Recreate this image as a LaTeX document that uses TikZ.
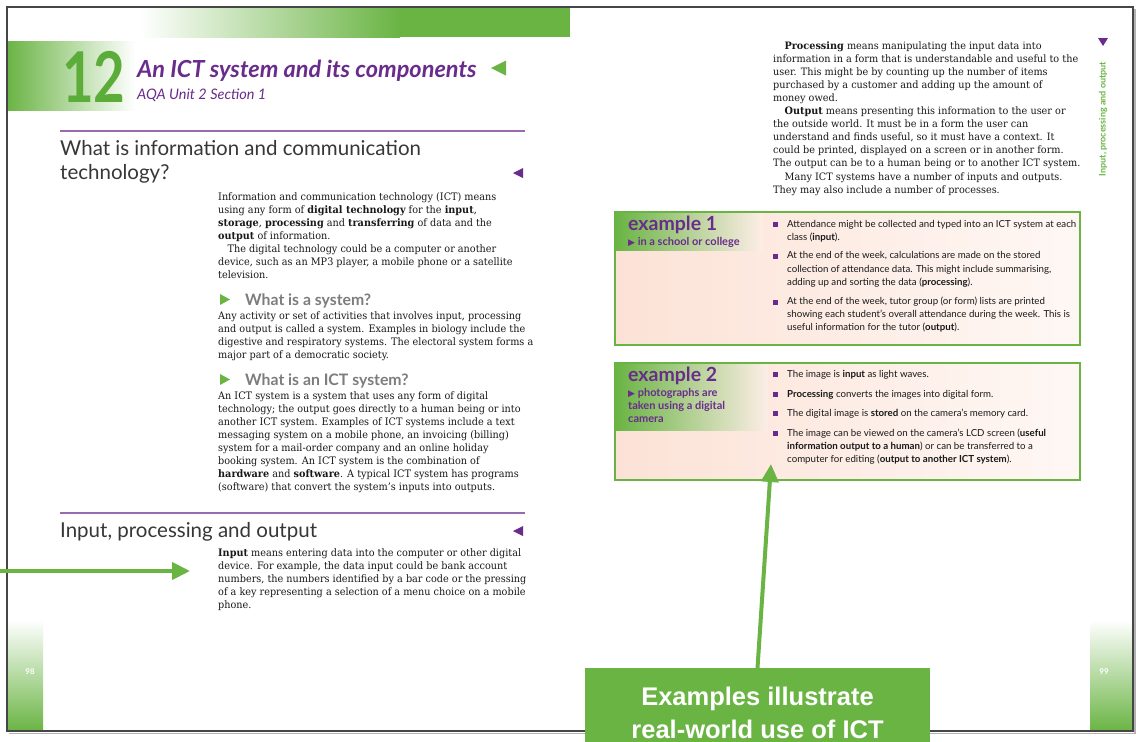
\documentclass[tikz,border=0pt]{standalone}
\usepackage{fontspec}
\setmainfont{DejaVu Serif}
\newfontfamily\gill{Lato}
\newfontfamily\callf{Liberation Sans}
\newfontfamily\djs{DejaVu Sans}
\usetikzlibrary{arrows.meta}
\definecolor{gg}{RGB}{106,180,68}
\definecolor{gnum}{RGB}{92,172,58}
\definecolor{pur}{RGB}{106,44,140}
\definecolor{hdc}{RGB}{55,55,55}
\definecolor{bodyc}{RGB}{25,25,25}
\definecolor{subg}{RGB}{125,125,125}
\definecolor{pinkc}{RGB}{252,226,214}
\definecolor{framec}{RGB}{70,70,70}
\newcommand\plines[1]{\vtop{\halign{##\hfil\cr#1\crcr}}}
\tikzset{
  body/.style={anchor=base west, inner sep=0pt, text=bodyc, xscale=0.94, font=\fontsize{10.3}{13.1}\selectfont},
  bodyr/.style={anchor=base west, inner sep=0pt, text=bodyc, xscale=0.95, font=\fontsize{10.2}{13.1}\selectfont},
  mainhead/.style={anchor=base west, inner sep=0pt, text=hdc, font=\gill\fontsize{20.5}{24}\selectfont},
  subhead/.style={anchor=base west, inner sep=0pt, text=subg, font=\gill\bfseries\fontsize{15.8}{18}\selectfont},
  exhead/.style={anchor=base west, inner sep=0pt, text=pur, font=\gill\bfseries\fontsize{19.5}{20}\selectfont},
  exsub/.style={anchor=base west, inner sep=0pt, text=pur, font=\gill\bfseries\fontsize{11}{13}\selectfont},
  bul/.style={anchor=base west, inner sep=0pt, text=bodyc, font=\gill\fontsize{9.7}{13.3}\selectfont},
  sq/.style={fill=pur, minimum size=5pt, inner sep=0pt},
  bigarrow/.style={draw=gg, line width=4pt, -{Triangle[length=18pt,width=17pt]}},
  exbox/.style={draw=gg, line width=2pt},
  pagenum/.style={text=white, font=\gill\bfseries\fontsize{8}{9}\selectfont, inner sep=0pt}
}
\begin{document}
\begin{tikzpicture}[x=1pt,y=-1pt]
\useasboundingbox (0,0) rectangle (1136,742);
\fill[white] (0,0) rectangle (1136,742);
% page frame and shadow
\draw[black!30, line width=1.5pt] (9,733.5) -- (1135,733.5) -- (1135,9);
% top band and left block
\shade[left color=white, right color=gg] (140,7) rectangle (400,37);
\fill[gg] (399,7) rectangle (570,37);
\shade[left color=gg, right color=white] (7,41) rectangle (135,110);
% page number bars
\shade[top color=white, bottom color=gg] (7,620) rectangle (43,731);
\shade[top color=white, bottom color=gg] (1090,620) rectangle (1133,731);
\node[pagenum] (pn98) at (30,672) {98};
\node[pagenum] (pn99) at (1104,672) {99};
\draw[framec, line width=1.2pt] (7,7) rectangle (1133,731);

% chapter title
\node[anchor=base west, inner sep=0pt, text=gnum, xscale=0.78, font=\gill\bfseries\fontsize{70}{70}\selectfont] (num) at (62,102) {12};
\node[anchor=base west, inner sep=0pt, text=pur, font=\gill\bfseries\itshape\fontsize{23.5}{26}\selectfont] (title) at (137,77) {An ICT system and its components};
\node[anchor=base west, inner sep=0pt, text=pur, font=\gill\itshape\fontsize{14.5}{16}\selectfont] (subtitle) at (137,99) {AQA Unit 2 Section 1};
\fill[gg] (491,68) -- (506,60.5) -- (506,75.5) -- cycle;

% section 1
\draw[pur!70, line width=1.2pt] (60,131) -- (525,131);
\node[mainhead] (h1) at (60,155) {\plines{What is information and communication\cr technology?}};
\fill[pur] (513,173) -- (523,168) -- (523,178) -- cycle;
\node[body] (p1) at (218,200) {\plines{%
Information and communication technology (ICT) means\cr
using any form of {\bfseries digital technology} for the {\bfseries input},\cr
{\bfseries storage}, {\bfseries processing} and {\bfseries transferring} of data and the\cr
{\bfseries output} of information.\cr
\hskip10pt The digital technology could be a computer or another\cr
device, such as an MP3 player, a mobile phone or a satellite\cr
television.}};

\fill[gg] (220,294) -- (230,299.5) -- (220,305) -- cycle;
\node[subhead] (s1) at (245,305) {What is a system?};
\node[body] (p2) at (218,319) {\plines{%
Any activity or set of activities that involves input, processing\cr
and output is called a system. Examples in biology include the\cr
digestive and respiratory systems. The electoral system forms a\cr
major part of a democratic society.}};

\fill[gg] (220,374) -- (230,379.5) -- (220,385) -- cycle;
\node[subhead] (s2) at (245,385) {What is an ICT system?};
\node[body] (p3) at (218,399) {\plines{%
An ICT system is a system that uses any form of digital\cr
technology; the output goes directly to a human being or into\cr
another ICT system. Examples of ICT systems include a text\cr
messaging system on a mobile phone, an invoicing (billing)\cr
system for a mail-order company and an online holiday\cr
booking system. An ICT system is the combination of\cr
{\bfseries hardware} and {\bfseries software}. A typical ICT system has programs\cr
(software) that convert the system’s inputs into outputs.}};

% section 2
\draw[pur!70, line width=1.2pt] (60,513) -- (525,513);
\node[mainhead] (h2) at (60,537) {Input, processing and output};
\fill[pur] (513,531) -- (523,526) -- (523,536) -- cycle;
\node[body] (p4) at (218,556) {\plines{%
{\bfseries Input} means entering data into the computer or other digital\cr
device. For example, the data input could be bank account\cr
numbers, the numbers identified by a bar code or the pressing\cr
of a key representing a selection of a menu choice on a mobile\cr
phone.}};

% right page text
\node[bodyr] (p5) at (773,49) {\plines{%
\hskip12pt{\bfseries Processing} means manipulating the input data into\cr
information in a form that is understandable and useful to the\cr
user. This might be by counting up the number of items\cr
purchased by a customer and adding up the amount of\cr
money owed.\cr
\hskip12pt{\bfseries Output} means presenting this information to the user or\cr
the outside world. It must be in a form the user can\cr
understand and finds useful, so it must have a context. It\cr
could be printed, displayed on a screen or in another form.\cr
The output can be to a human being or to another ICT system.\cr
\hskip12pt Many ICT systems have a number of inputs and outputs.\cr
They may also include a number of processes.}};
\fill[pur] (1098,38) -- (1108,38) -- (1103,46) -- cycle;
\node[rotate=90, inner sep=0pt, text=gg, font=\gill\bfseries\fontsize{9}{10}\selectfont] (side) at (1103,119) {Input, processing and output};

% example 1
\path[left color=pinkc, right color=pinkc!25] (615,212) rectangle (1080,345);
\shade[left color=gg, right color=pinkc!60] (616,213) rectangle (762,250);
\draw[exbox] (615,212) rectangle (1080,345);
\node[exhead] (e1h) at (628,230) {example 1};
\node[exsub] (e1s) at (628,245) {{\djs\fontsize{9}{9}\selectfont ▶} in a school or college};
\node[sq] (q11) at (775.5,224) {};
\node[sq] (q12) at (775.5,256) {};
\node[sq] (q13) at (775.5,302) {};
\node[bul] (b11) at (787,227.3) {\plines{Attendance might be collected and typed into an ICT system at each\cr class ({\bfseries input}).}};
\node[bul] (b12) at (787,258.8) {\plines{At the end of the week, calculations are made on the stored\cr collection of attendance data. This might include summarising,\cr adding up and sorting the data ({\bfseries processing}).}};
\node[bul] (b13) at (787,304.3) {\plines{At the end of the week, tutor group (or form) lists are printed\cr showing each student’s overall attendance during the week. This is\cr useful information for the tutor ({\bfseries output}).}};

% example 2
\path[left color=pinkc, right color=pinkc!25] (615,363) rectangle (1080,480);
\shade[left color=gg, right color=pinkc!60] (616,364) rectangle (768,430);
\draw[exbox] (615,363) rectangle (1080,480);
\node[exhead] (e2h) at (628,381) {example 2};
\node[exsub] (e2s) at (628,396) {\plines{{\djs\fontsize{9}{9}\selectfont ▶} photographs are\cr taken using a digital\cr camera}};
\node[sq] (q21) at (775.5,374.5) {};
\node[sq] (q22) at (775.5,394.5) {};
\node[sq] (q23) at (775.5,413.5) {};
\node[sq] (q24) at (775.5,433.5) {};
\node[bul] (b21) at (787,377.3) {The image is {\bfseries input} as light waves.};
\node[bul] (b22) at (787,397.3) {{\bfseries Processing} converts the images into digital form.};
\node[bul] (b23) at (787,416.3) {The digital image is {\bfseries stored} on the camera’s memory card.};
\node[bul] (b24) at (787,436.3) {\plines{The image can be viewed on the camera’s LCD screen ({\bfseries useful}\cr {\bfseries information output to a human}) or can be transferred to a\cr computer for editing ({\bfseries output to another ICT system}).}};

% callout and arrows
\node[fill=gg, anchor=north, minimum width=345pt, minimum height=90pt, inner sep=0pt, text=white, align=center, font=\callf\bfseries\fontsize{25.5}{33}\selectfont] (callout) at (757.5,668) {Examples illustrate\\real-world use of ICT};
\coordinate (uptip) at (771,464);
\draw[bigarrow] (callout.north) -- (uptip);
\coordinate (lstart) at (0,571);
\coordinate (ltip) at (190,571);
\draw[bigarrow] (lstart) -- (ltip);
\end{tikzpicture}
\end{document}
